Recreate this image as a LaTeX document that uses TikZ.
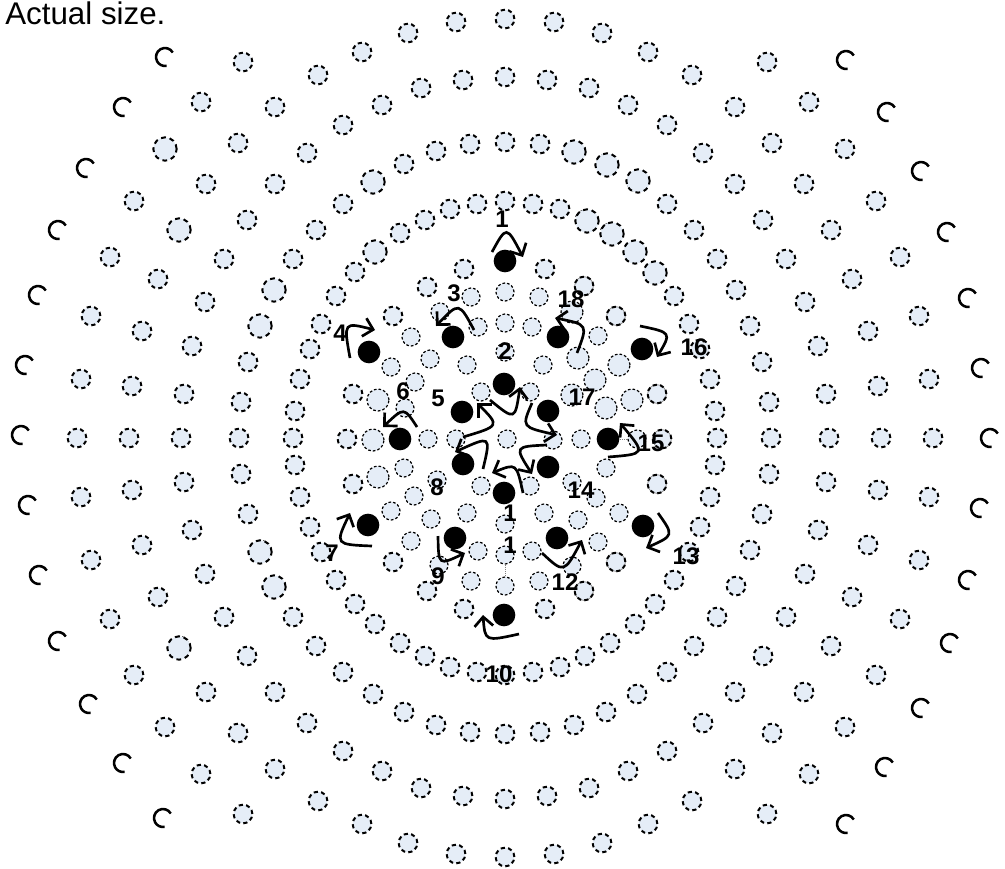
\documentclass[tikz,border=0pt]{standalone}
\usepackage{fontspec}
\setmainfont{Liberation Sans}
\usetikzlibrary{arrows.meta,calc}
\definecolor{sitefill}{rgb}{0.90,0.93,0.97}
\tikzset{
  site/.style={
    circle,
    draw=black,
    fill=sitefill,
    inner sep=0pt,
    minimum size=14pt,
    line width=1.5pt,
    dash pattern=on 3.1pt off 2.4pt
  },
  bigsite/.style={
    site,
    minimum size=17.5pt,
    dash pattern=on 3.6pt off 2.9pt
  },
  thinsite/.style={
    circle,
    draw=black,
    fill=sitefill,
    inner sep=0pt,
    minimum size=13.5pt,
    line width=.9pt,
    dash pattern=on 2pt off 1.5pt
  },
  widesite/.style={
    thinsite,
    minimum size=16.5pt
  },
  darksite/.style={
    site,
    draw=black!45,
    solid,
    line width=.6pt,
    postaction={draw=black,line width=1.5pt,dash pattern=on 3.1pt off 2.4pt}
  },
  ionc/.style={
    black,
    line width=1.9pt
  },
  atom/.style={
    circle,
    fill=black,
    inner sep=0pt,
    minimum size=17pt
  },
  spin/.style={
    -{Straight Barb[length=7pt,width=14pt]},
    line width=2pt
  },
  link/.style={
    black!50,
    densely dotted,
    line width=.6pt
  },
  num/.style={
    inner sep=0pt,
    font=\fontsize{18}{20}\selectfont\bfseries
  }
}
\begin{document}
\begin{tikzpicture}[x=.75pt,y=-.75pt]
\useasboundingbox (0,0) rectangle (1005,868);
\node[anchor=base west,inner sep=0pt,font=\fontsize{23.5}{26}\selectfont] (caption) at (5,24) {Actual size.};
% outer rings, one quadrant mirrored four ways
\foreach \sx/\sy/\q in {1/1/a,-1/1/b,1/-1/c,-1/-1/d}
  \foreach \dx/\dy [count=\i] in {262/376,187/363,304/336,230/331,162/313,340/289,267/295,198/285,
    371/237,299/254,230/254,162/234,326/208,258/218,189/208,395/181,281/179,212/179,347/159,
    300/136,231/148,169/142,414/122,363/107,313/92,245/112,184/114,257/76,195/89,424/59,373/52,
    321/44,264/36,205/59,210/27,150/166,130/186,105/205,80/218,55/229,28/234,35/294,69/287,
    101/274,132/256,42/358,84/350,123/333,49/416,97/405,143/386}
    \node[site] (s\q\i) at ({505+\sx*\dx},{438+\sy*\dy}) {};
\foreach \sx/\q in {1/e,-1/f}
  \foreach \dx [count=\i] in {428,376,324,266,212}
    \node[site] (s\q\i) at ({505+\sx*\dx},438) {};
\foreach \sy/\q in {1/g,-1/h}
  \foreach \dy [count=\i] in {419,361,296,237}
    \node[site] (s\q\i) at (505,{438+\sy*\dy}) {};
% the larger ones
\foreach \x/\y [count=\i] in {165/149,179/230,179/648,274/290,274/587,260/326,260/552,373/182,
  574/152,607/165,638/181,375/252,587/221,612/234,635/252,655/273}
  \node[bigsite] (big\i) at (\x,\y) {};
% inner region
\foreach \x/\y [count=\i] in {464/269,545/269,427/287,393/316,353/394,347/439,353/484,393/562,
  427/591,464/609,545/609}
  \node[site] (in\i) at (\x,\y) {};
\foreach \x/\y [count=\i] in {584/286,616/316,657/394,662/439,657/484,616/562,584/591}
  \node[darksite] (dk\i) at (\x,\y) {};
\foreach \x/\y [count=\i] in {471/297,505/292,539/297,478/327,505/323,532/327,411/337,598/336,
  440/312,430/359,391/367,467/365,505/352,543/365,415/382,405/408,481/392,530/392,428/439,
  456/439,507/439,553/440,581/439,404/468,437/480,481/486,530/486,572/482,606/468,414/496,
  596/498,391/511,431/519,467/513,505/524,544/513,578/520,619/513,411/541,598/542,478/551,
  532/551,439/565,572/566,471/581,539/581}
  \node[thinsite] (th\i) at (\x,\y) {};
\foreach \x/\y [count=\i] in {572/312,578/358,595/380,619/365,572/395,606/408,632/400,378/400,
  373/440,378/477}
  \node[widesite] (wd\i) at (\x,\y) {};
\node[thinsite] (ta) at (505,555) {};
\node[thinsite] (tb) at (505,586) {};
\node[thinsite] (tc) at (637,439) {};
% outermost ions
\foreach \x/\y in {165/57,123/107,86/168,58/230,38/295,25/365,21/435,28/505,39/575,58/641,89/704,
  123/763,163/818,846/60,887/112,921/171,947/232,968/298,981/368,990/438,980/508,968/580,950/643,
  921/708,885/767,846/824}
  \draw[ionc] (\x,\y) ++(-30:9) arc[start angle=-30,end angle=-280,radius=9];
% black atoms
\foreach \n/\x/\y in {1/505/261,2/504/384,3/453/337,4/369/352,5/462/412,6/400/439,7/368/525,
  8/463/464,9/455/538,10/504/615,11/504/493,12/557/538,13/643/526,14/548/467,15/608/439,
  16/642/349,17/548/411,18/558/337}
  \node[atom] (d\n) at (\x,\y) {};
\draw[link] (ta) -- (tb);
\draw[link] (d15) -- (tc);
% rotation arrows
\foreach \n/\sx/\sy/\cx/\cy/\ex/\ey in {1/-13/-9/1.5/-35.5/18/-4,
  4/-19/6/-25.5/-30/6/-22,
  3/21/-7/6/-35/-17/-11,
  18/19/16/30/-12.5/-3/-19,
  16/-2/-23/29.5/-16.5/15/8,
  2/-14/16/11/36.5/16/3,
  5/1/25/38/14/15/-9,
  17/-16/-8/-26.5/16/9/24,
  6/17/-12/4/-32/-17/-12,
  15/0/18/38/15/12/-16,
  8/20/5/28/-28.5/-8/-12,
  14/-1/-22/-33.5/-20.5/-16/7,
  11/19/0/12.5/-30/-12/-20,
  7/4/21/-33/19.5/-18/-12,
  9/-17/-2/-16.5/27.5/10/15,
  12/-15/15/7/35.5/25/2,
  13/15/-13/31/9.5/3/22,
  10/15/19/-19/26.5/-21/0}
  \draw[spin] ($(d\n)+(\sx,\sy)$) .. controls ($(d\n)+(\cx,\cy)$) .. ($(d\n)+(\ex,\ey)$);
% numbers
\node[num] (n1) at (502,219) {1};
\node[num] (n2) at (505,351) {2};
\node[num] (n3) at (454,293) {3};
\node[num] (n4) at (340,333) {4};
\node[num] (n5) at (438,398) {5};
\node[num] (n6) at (403,391) {6};
\node[num] (n7) at (332,553) {7};
\node[num] (n8) at (437,487) {8};
\node[num] (n9) at (438,576) {9};
\node[num] (n10) at (499,674) {10};
\node[num] (n11) at (510,513) {1};
\node[num] (n11b) at (510,545) {1};
\node[num] (n12) at (565,582) {12};
\node[num] (n13) at (686,556) {13};
\node[num] (n14) at (581,490) {14};
\node[num] (n15) at (651,443) {15};
\node[num] (n16) at (694,347) {16};
\node[num] (n17) at (582,397) {17};
\node[num] (n18) at (571,299) {18};
\end{tikzpicture}
\end{document}
